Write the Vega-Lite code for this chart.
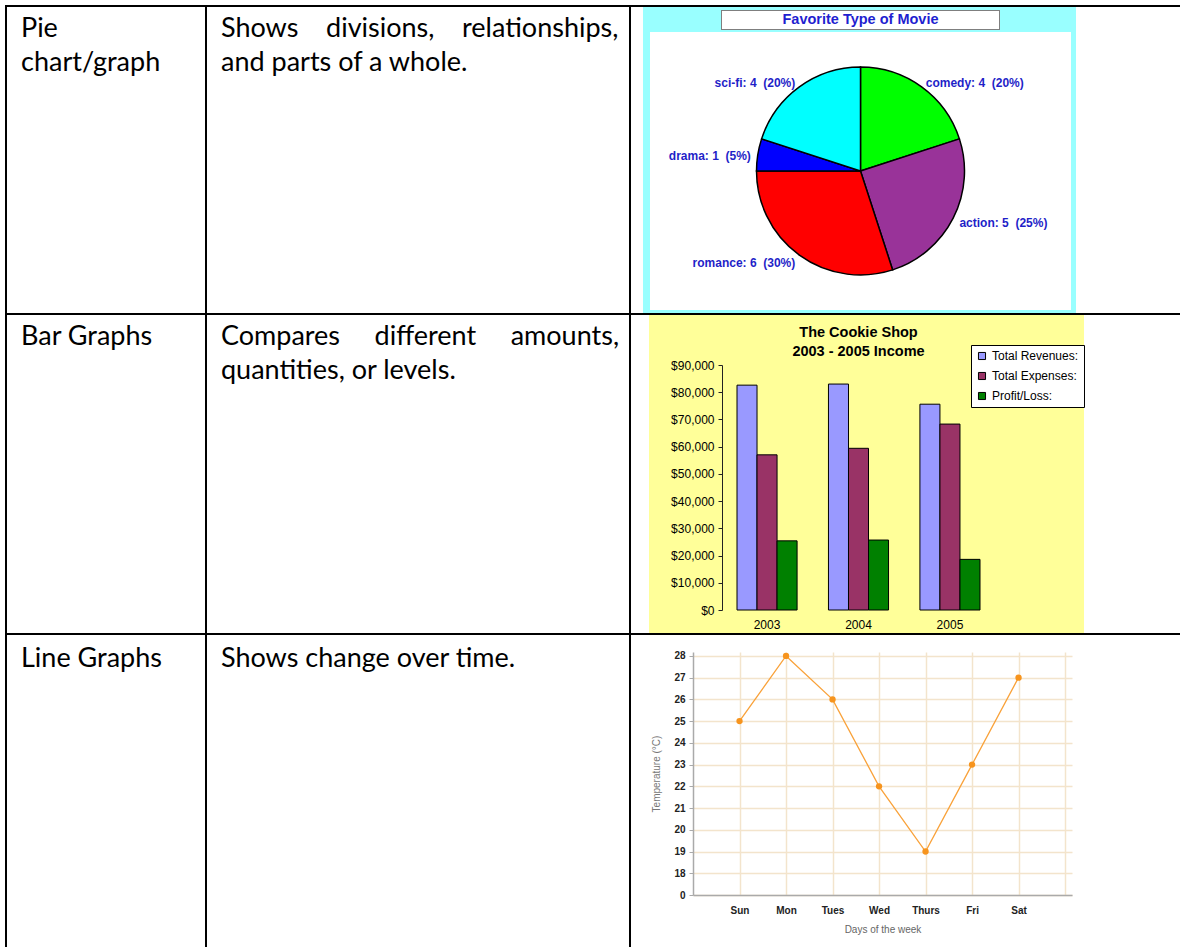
{
  "$schema": "https://vega.github.io/schema/vega-lite/v6.json",
  "padding": 0,
  "background": "white",
  "config": {"view": {"stroke": null}, "font": "Liberation Sans"},
  "datasets": {
    "table": [
      {"row": 1, "kind": ["Pie", "chart/graph"], "desc": ["Shows\u00a0\u00a0\u00a0 divisions,\u00a0\u00a0\u00a0 relationships,", "and parts of a whole."]},
      {"row": 2, "kind": ["Bar Graphs"], "desc": ["Compares\u00a0\u00a0\u00a0\u00a0 different\u00a0\u00a0\u00a0\u00a0 amounts,", "quantities, or levels."]},
      {"row": 3, "kind": ["Line Graphs"], "desc": ["Shows change over time."]}
    ],
    "movies": [
      {"type": "comedy", "count": 4, "ord": 1, "label": "comedy: 4\u00a0 (20%)"},
      {"type": "action", "count": 5, "ord": 2, "label": "action: 5\u00a0 (25%)"},
      {"type": "romance", "count": 6, "ord": 3, "label": "romance: 6\u00a0 (30%)"},
      {"type": "drama", "count": 1, "ord": 4, "label": "drama: 1\u00a0 (5%)"},
      {"type": "sci-fi", "count": 4, "ord": 5, "label": "sci-fi: 4\u00a0 (20%)"}
    ],
    "income": [
      {"year": "2003", "series": "Total Revenues:", "amount": 82600},
      {"year": "2003", "series": "Total Expenses:", "amount": 57000},
      {"year": "2003", "series": "Profit/Loss:", "amount": 25400},
      {"year": "2004", "series": "Total Revenues:", "amount": 83000},
      {"year": "2004", "series": "Total Expenses:", "amount": 59400},
      {"year": "2004", "series": "Profit/Loss:", "amount": 25700},
      {"year": "2005", "series": "Total Revenues:", "amount": 75600},
      {"year": "2005", "series": "Total Expenses:", "amount": 68300},
      {"year": "2005", "series": "Profit/Loss:", "amount": 18600}
    ],
    "temps": [
      {"day": "Sun", "temp": 25},
      {"day": "Mon", "temp": 28},
      {"day": "Tues", "temp": 26},
      {"day": "Wed", "temp": 22},
      {"day": "Thurs", "temp": 19},
      {"day": "Fri", "temp": 23},
      {"day": "Sat", "temp": 27}
    ]
  },
  "spacing": 0,
  "resolve": {"scale": {"x": "independent", "y": "independent", "color": "independent", "theta": "independent", "xOffset": "independent"}},
  "hconcat": [
    {"width": 5, "height": 947, "data": {"values": []}, "mark": "point"},
    {
      "spacing": 0,
      "resolve": {"scale": {"x": "independent", "y": "independent", "color": "independent", "theta": "independent", "xOffset": "independent"}},
      "vconcat": [
        {"width": 1175, "height": 5, "data": {"values": []}, "mark": "point"},
        {"width": 1175, "height": 2, "data": {"values": []}, "mark": "point", "view": {"fill": "black"}},
        {
          "spacing": 0,
          "resolve": {"scale": {"x": "independent", "y": "independent", "color": "independent", "theta": "independent"}},
          "hconcat": [
            {"width": 2, "height": 306, "data": {"values": []}, "mark": "point", "view": {"fill": "black"}},
            {
              "width": 198, "height": 306,
              "data": {"name": "table"},
              "transform": [{"filter": "datum.row == 1"}],
              "mark": {"type": "text", "align": "left", "baseline": "alphabetic", "dx": 14, "dy": 30, "font": "Lato", "fontSize": 27, "lineHeight": 34, "color": "black"},
              "encoding": {
                "x": {"datum": 0, "type": "quantitative", "scale": {"domain": [0, 1]}, "axis": null},
                "y": {"datum": 1, "type": "quantitative", "scale": {"domain": [0, 1]}, "axis": null},
                "text": {"field": "kind"}
              }
            },
            {"width": 2, "height": 306, "data": {"values": []}, "mark": "point", "view": {"fill": "black"}},
            {
              "width": 422, "height": 306,
              "data": {"name": "table"},
              "transform": [{"filter": "datum.row == 1"}],
              "mark": {"type": "text", "align": "left", "baseline": "alphabetic", "dx": 14, "dy": 30, "font": "Lato", "fontSize": 27, "lineHeight": 34, "color": "black"},
              "encoding": {
                "x": {"datum": 0, "type": "quantitative", "scale": {"domain": [0, 1]}, "axis": null},
                "y": {"datum": 1, "type": "quantitative", "scale": {"domain": [0, 1]}, "axis": null},
                "text": {"field": "desc"}
              }
            },
            {"width": 2, "height": 306, "data": {"values": []}, "mark": "point", "view": {"fill": "black"}},
            {
              "spacing": 0,
              "hconcat": [
                {"width": 12, "height": 306, "data": {"values": []}, "mark": "point"},
                {
                  "spacing": 0,
                  "vconcat": [
                    {
                      "spacing": 0,
                      "hconcat": [
                        {"width": 78, "height": 25, "data": {"values": []}, "mark": "point", "view": {"fill": "#99ffff"}},
                        {
                          "spacing": 0,
                          "vconcat": [
                            {"width": 279, "height": 3, "data": {"values": []}, "mark": "point", "view": {"fill": "#99ffff"}},
                            {
                              "spacing": 0,
                              "hconcat": [
                                {"width": 1, "height": 20, "data": {"values": []}, "mark": "point", "view": {"fill": "#7f7f7f"}},
                                {
                                  "spacing": 0,
                                  "vconcat": [
                                    {"width": 277, "height": 1, "data": {"values": []}, "mark": "point", "view": {"fill": "#7f7f7f"}},
                                    {
                                      "width": 277, "height": 18,
                                      "data": {"values": [{"t": "Favorite Type of Movie"}]},
                                      "view": {"fill": "white"},
                                      "mark": {"type": "text", "fontWeight": "bold", "fontSize": 14.5, "color": "#1f1fd0", "baseline": "middle", "font": "Liberation Sans"},
                                      "encoding": {"text": {"field": "t"}}
                                    },
                                    {"width": 277, "height": 1, "data": {"values": []}, "mark": "point", "view": {"fill": "#7f7f7f"}}
                                  ]
                                },
                                {"width": 1, "height": 20, "data": {"values": []}, "mark": "point", "view": {"fill": "#7f7f7f"}}
                              ]
                            },
                            {"width": 279, "height": 2, "data": {"values": []}, "mark": "point", "view": {"fill": "#99ffff"}}
                          ]
                        },
                        {"width": 76, "height": 25, "data": {"values": []}, "mark": "point", "view": {"fill": "#99ffff"}}
                      ]
                    },
                    {
                      "spacing": 0,
                      "hconcat": [
                        {"width": 7, "height": 278, "data": {"values": []}, "mark": "point", "view": {"fill": "#99ffff"}},
                        {
                          "width": 421, "height": 278,
                          "data": {"name": "movies"},
                          "view": {"fill": "white"},
                          "encoding": {
                            "theta": {"field": "count", "type": "quantitative", "stack": true},
                            "order": {"field": "ord", "type": "quantitative"}
                          },
                          "layer": [
                            {
                              "mark": {"type": "arc", "outerRadius": 104, "stroke": "black", "strokeWidth": 1.5},
                              "encoding": {
                                "color": {"field": "type", "type": "nominal", "scale": {"domain": ["comedy", "action", "romance", "drama", "sci-fi"], "range": ["#00ff00", "#993399", "#ff0000", "#0000ff", "#00ffff"]}, "legend": null}
                              }
                            },
                            {
                              "mark": {"type": "text", "radius": 111, "dy": 2, "align": "left", "baseline": "middle", "font": "Liberation Sans", "fontWeight": "bold", "fontSize": 12, "color": "#1f1fc8"},
                              "encoding": {
                                "detail": {"field": "type", "type": "nominal"},
                                "text": {"condition": {"test": "datum.ord <= 2", "field": "label"}, "value": ""}
                              }
                            },
                            {
                              "mark": {"type": "text", "radius": 111, "dy": 2, "align": "right", "baseline": "middle", "font": "Liberation Sans", "fontWeight": "bold", "fontSize": 12, "color": "#1f1fc8"},
                              "encoding": {
                                "detail": {"field": "type", "type": "nominal"},
                                "text": {"condition": {"test": "datum.ord > 2", "field": "label"}, "value": ""}
                              }
                            }
                          ]
                        },
                        {"width": 5, "height": 278, "data": {"values": []}, "mark": "point", "view": {"fill": "#99ffff"}}
                      ]
                    },
                    {"width": 433, "height": 3, "data": {"values": []}, "mark": "point", "view": {"fill": "#99ffff"}}
                  ]
                },
                {"width": 104, "height": 306, "data": {"values": []}, "mark": "point"}
              ]
            }
          ]
        },
        {"width": 1175, "height": 2, "data": {"values": []}, "mark": "point", "view": {"fill": "black"}},
        {
          "spacing": 0,
          "resolve": {"scale": {"x": "independent", "y": "independent", "color": "independent", "xOffset": "independent"}},
          "hconcat": [
            {"width": 2, "height": 318, "data": {"values": []}, "mark": "point", "view": {"fill": "black"}},
            {
              "width": 198, "height": 318,
              "data": {"name": "table"},
              "transform": [{"filter": "datum.row == 2"}],
              "mark": {"type": "text", "align": "left", "baseline": "alphabetic", "dx": 14, "dy": 30, "font": "Lato", "fontSize": 27, "lineHeight": 34, "color": "black"},
              "encoding": {
                "x": {"datum": 0, "type": "quantitative", "scale": {"domain": [0, 1]}, "axis": null},
                "y": {"datum": 1, "type": "quantitative", "scale": {"domain": [0, 1]}, "axis": null},
                "text": {"field": "kind"}
              }
            },
            {"width": 2, "height": 318, "data": {"values": []}, "mark": "point", "view": {"fill": "black"}},
            {
              "width": 422, "height": 318,
              "data": {"name": "table"},
              "transform": [{"filter": "datum.row == 2"}],
              "mark": {"type": "text", "align": "left", "baseline": "alphabetic", "dx": 14, "dy": 30, "font": "Lato", "fontSize": 27, "lineHeight": 34, "color": "black"},
              "encoding": {
                "x": {"datum": 0, "type": "quantitative", "scale": {"domain": [0, 1]}, "axis": null},
                "y": {"datum": 1, "type": "quantitative", "scale": {"domain": [0, 1]}, "axis": null},
                "text": {"field": "desc"}
              }
            },
            {"width": 2, "height": 318, "data": {"values": []}, "mark": "point", "view": {"fill": "black"}},
            {
              "spacing": 0,
              "hconcat": [
                {"width": 18, "height": 318, "data": {"values": []}, "mark": "point"},
                {
                  "width": 435, "height": 318,
                  "view": {"fill": "#ffff99"},
                  "resolve": {"axis": {"x": "independent", "y": "independent"}},
                  "layer": [
                    {
                      "data": {"name": "income"},
                      "mark": {"type": "bar", "stroke": "black", "strokeWidth": 1},
                      "encoding": {
                        "x": {
                          "field": "year", "type": "nominal",
                          "scale": {"range": [88, 331], "paddingInner": 0.343, "paddingOuter": 0},
                          "axis": {"title": null, "labelAngle": 0, "ticks": false, "domain": false, "offset": -23, "labelPadding": 9, "labelFont": "Liberation Sans", "labelFontSize": 12, "labelColor": "black"}
                        },
                        "xOffset": {
                          "field": "series", "type": "nominal",
                          "sort": ["Total Revenues:", "Total Expenses:", "Profit/Loss:"],
                          "scale": {"paddingInner": 0, "paddingOuter": 0}
                        },
                        "y": {
                          "field": "amount", "type": "quantitative",
                          "scale": {"domain": [0, 90000], "range": [295, 50], "nice": false},
                          "axis": {"title": null, "offset": -73, "values": [0, 10000, 20000, 30000, 40000, 50000, 60000, 70000, 80000, 90000], "format": "$,d", "grid": false, "labelOverlap": false, "domainColor": "#222222", "tickColor": "#222222", "tickSize": 4, "labelPadding": 4, "labelFont": "Liberation Sans", "labelFontSize": 12, "labelColor": "black"}
                        },
                        "color": {
                          "field": "series", "type": "nominal",
                          "sort": ["Total Revenues:", "Total Expenses:", "Profit/Loss:"],
                          "scale": {"domain": ["Total Revenues:", "Total Expenses:", "Profit/Loss:"], "range": ["#9999ff", "#993366", "#008000"]},
                          "legend": {"orient": "none", "legendX": 340, "legendY": 30, "title": null, "fillColor": "white", "strokeColor": "black", "padding": 5, "symbolType": "square", "symbolSize": 50, "symbolStrokeColor": "black", "symbolStrokeWidth": 1, "labelFont": "Liberation Sans", "labelFontSize": 12, "labelColor": "black", "rowPadding": 8, "labelOffset": 4}
                        }
                      }
                    },
                    {
                      "data": {"values": [{"t": ["The Cookie Shop", "2003 - 2005 Income"]}]},
                      "mark": {"type": "text", "font": "Liberation Sans", "fontSize": 14.5, "fontWeight": "bold", "color": "black", "baseline": "middle", "lineHeight": 18.5, "dy": -32},
                      "encoding": {
                        "x": {"datum": "2004", "type": "nominal", "axis": null},
                        "y": {"datum": 90000, "type": "quantitative", "axis": null},
                        "text": {"field": "t"}
                      }
                    }
                  ]
                },
                {"width": 96, "height": 318, "data": {"values": []}, "mark": "point"}
              ]
            }
          ]
        },
        {"width": 1175, "height": 2, "data": {"values": []}, "mark": "point", "view": {"fill": "black"}},
        {
          "spacing": 0,
          "resolve": {"scale": {"x": "independent", "y": "independent"}},
          "hconcat": [
            {"width": 2, "height": 312, "data": {"values": []}, "mark": "point", "view": {"fill": "black"}},
            {
              "width": 198, "height": 312,
              "data": {"name": "table"},
              "transform": [{"filter": "datum.row == 3"}],
              "mark": {"type": "text", "align": "left", "baseline": "alphabetic", "dx": 14, "dy": 32, "font": "Lato", "fontSize": 27, "lineHeight": 34, "color": "black"},
              "encoding": {
                "x": {"datum": 0, "type": "quantitative", "scale": {"domain": [0, 1]}, "axis": null},
                "y": {"datum": 1, "type": "quantitative", "scale": {"domain": [0, 1]}, "axis": null},
                "text": {"field": "kind"}
              }
            },
            {"width": 2, "height": 312, "data": {"values": []}, "mark": "point", "view": {"fill": "black"}},
            {
              "width": 422, "height": 312,
              "data": {"name": "table"},
              "transform": [{"filter": "datum.row == 3"}],
              "mark": {"type": "text", "align": "left", "baseline": "alphabetic", "dx": 14, "dy": 32, "font": "Lato", "fontSize": 27, "lineHeight": 34, "color": "black"},
              "encoding": {
                "x": {"datum": 0, "type": "quantitative", "scale": {"domain": [0, 1]}, "axis": null},
                "y": {"datum": 1, "type": "quantitative", "scale": {"domain": [0, 1]}, "axis": null},
                "text": {"field": "desc"}
              }
            },
            {"width": 2, "height": 312, "data": {"values": []}, "mark": "point", "view": {"fill": "black"}},
            {
              "width": 549, "height": 312,
              "data": {"name": "temps"},
              "encoding": {
                "y": {
                  "field": "temp", "type": "quantitative",
                  "scale": {"domain": [17, 28.18], "range": [260, 17], "nice": false, "zero": false},
                  "axis": {"title": "Temperature (°C)", "offset": -62, "values": [17, 18, 19, 20, 21, 22, 23, 24, 25, 26, 27, 28], "labelExpr": "datum.value == 17 ? '0' : datum.label", "labelOverlap": false, "grid": true, "gridColor": "#f3e4cc", "gridWidth": 1.5, "tickColor": "#aaaaaa", "tickSize": 4, "domainColor": "#aaaaaa", "domainWidth": 1.5, "labelFont": "Liberation Sans", "labelFontWeight": "bold", "labelFontSize": 10, "labelColor": "#222222", "labelPadding": 4, "titleFont": "Liberation Sans", "titleFontWeight": "normal", "titleColor": "#777777", "titleFontSize": 10, "titlePadding": 12}
                }
              },
              "layer": [
                {
                  "mark": {"type": "line", "color": "#f9a23a", "strokeWidth": 1.3},
                  "encoding": {
                    "x": {
                      "field": "day", "type": "ordinal",
                      "scale": {"type": "point", "domain": ["Sun", "Mon", "Tues", "Wed", "Thurs", "Fri", "Sat", " "], "range": [62, 441], "padding": 0.575, "align": 0.87},
                      "axis": {"orient": "bottom", "title": "Days of the week", "offset": -52, "titleFont": "Liberation Sans", "titleFontSize": 10, "titleFontWeight": "normal", "titleColor": "#666666", "titlePadding": 9, "labelFont": "Liberation Sans", "labelFontSize": 10, "labelFontWeight": "bold", "labelColor": "#222222", "labelPadding": 10, "labelAngle": 0, "ticks": false, "domainColor": "#aaaaaa", "domainWidth": 1.5, "grid": false}
                    },
                    "order": {"value": null}
                  }
                },
                {
                  "mark": {"type": "point", "filled": true, "color": "#f7941d", "size": 40, "opacity": 1},
                  "encoding": {
                    "x": {
                      "field": "day", "type": "ordinal",
                      "scale": {"type": "point", "domain": ["Sun", "Mon", "Tues", "Wed", "Thurs", "Fri", "Sat", " "], "range": [62, 441], "padding": 0.575, "align": 0.87},
                      "axis": {"orient": "top", "title": null, "labels": false, "ticks": false, "domain": false, "grid": true, "gridColor": "#f3e4cc", "gridWidth": 1.5}
                    }
                  }
                }
              ],
              "resolve": {"axis": {"x": "independent"}}
            }
          ]
        }
      ]
    }
  ]
}
